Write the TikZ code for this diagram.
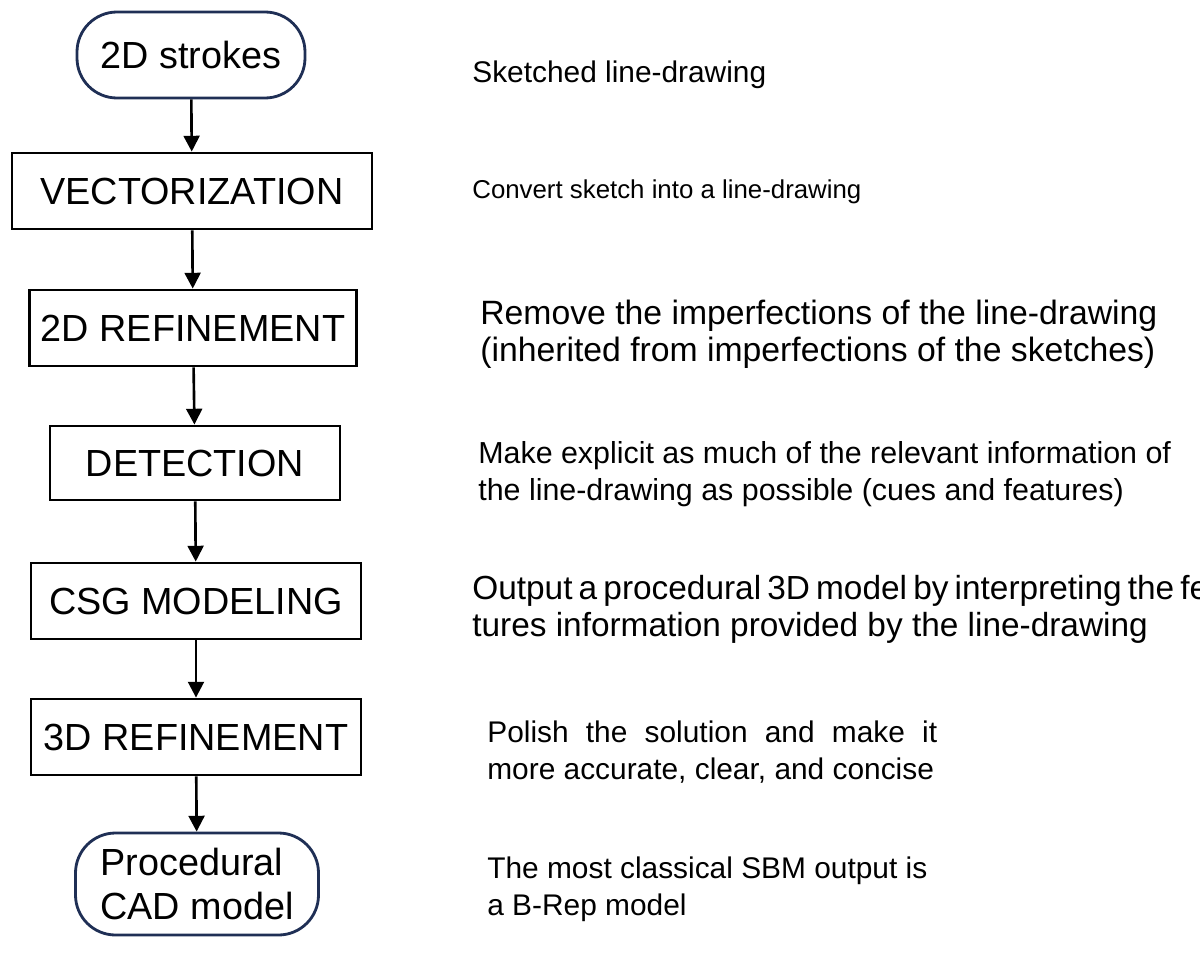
\documentclass[tikz,border=0pt]{standalone}
\usepackage{fontspec}
\setmainfont{Liberation Sans}
\usetikzlibrary{arrows.meta}
\definecolor{navy}{HTML}{1F2F55}
\begin{document}
\begin{tikzpicture}[x=0.02cm,y=-0.02cm,
  stepbox/.style={draw=black,line width=1.6pt,minimum height=0.02cm*76,font=\fontsize{21.5}{25}\selectfont,inner sep=0pt},
  term/.style={draw=navy,line width=1.6pt,rounded corners=0.02cm*40,font=\fontsize{21.5}{25}\selectfont,inner sep=0pt,align=left},
  desc/.style={anchor=west,align=left,inner sep=0pt},
  arr/.style={-{Triangle[length=9pt,width=9pt]},line width=1.5pt}]
\useasboundingbox (0,0) rectangle (1200,963);
\node[term,minimum width=0.02cm*228,minimum height=0.02cm*86] (a) at (191,55) {2D strokes};
\node[stepbox,minimum width=0.02cm*360] (b) at (192,191) {VECTORIZATION};
\node[stepbox,minimum width=0.02cm*327] (c) at (193,328) {2D REFINEMENT};
\node[stepbox,minimum width=0.02cm*290,minimum height=0.02cm*74] (d) at (195,463) {DETECTION};
\node[stepbox,minimum width=0.02cm*330] (e) at (196,601) {CSG MODELING};
\node[stepbox,minimum width=0.02cm*330] (f) at (196,737) {3D REFINEMENT};
\node[term,minimum width=0.02cm*243,minimum height=0.02cm*102] (g) at (197,884) {Procedural\\CAD model};
\foreach \u/\v in {a/b,b/c,c/d,d/e,e/f,f/g} \draw[arr] (\u) -- (\v);
\node[desc,font=\fontsize{17}{21}\selectfont] (ta) at (472,75) {Sketched line-drawing};
\node[desc,font=\fontsize{14.7}{21}\selectfont] (tb) at (472,192) {Convert sketch into a line-drawing};
\node[desc,font=\fontsize{19.2}{21}\selectfont] (tc) at (480,334) {Remove the imperfections of the line-drawing\\(inherited from imperfections of the sketches)};
\node[desc,font=\fontsize{17.3}{21}\selectfont] (td) at (478,474) {Make explicit as much of the relevant information of\\the line-drawing as possible (cues and features)};
\node[desc,font=\fontsize{19}{21}\selectfont] (te) at (472,609) {\makebox[14.36cm][s]{Output a procedural 3D model by interpreting the fea-}\\tures information provided by the line-drawing};
\node[desc,font=\fontsize{17}{21}\selectfont] (tf) at (487,752) {\makebox[9cm][s]{Polish the solution and make it}\\more accurate, clear, and concise};
\node[desc,font=\fontsize{17}{21}\selectfont] (tg) at (487,889) {The most classical SBM output is\\a B-Rep model};
\end{tikzpicture}
\end{document}
